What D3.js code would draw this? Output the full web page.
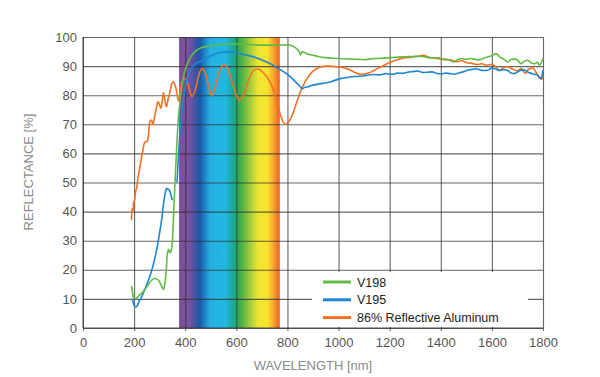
<!DOCTYPE html>
<html lang="en">
<head>
<meta charset="UTF-8" />
<title>Reflectance</title>
<script src="https://cdn.jsdelivr.net/npm/d3@7"></script>
<style>
  body { margin: 0; background: #fff; }
  text { font-family: "Liberation Sans", Arial, sans-serif; }
</style>
</head>
<body>
<svg id="vis" width="600" height="377"></svg>
<script>
// values: [wavelength nm, reflectance %]
const xTicks = [0, 200, 400, 600, 800, 1000, 1200, 1400, 1600, 1800];
const yTicks = [0, 10, 20, 30, 40, 50, 60, 70, 80, 90, 100];
const seriesNames = ["V198", "V195", "86% Reflective Aluminum"];
const visibleRange = [376, 770];

const v198 = [[190,14.5],[193,12.5],[198,10.5],[204,10.1],[212,10.4],[220,11.2],[230,12],[240,13],[250,14.2],[260,15.5],[270,16.5],[280,17],[290,16.8],[300,15.8],[308,14.3],[315,13.2],[320,15],[326,20],[330,25.5],[335,27],[340,25.8],[345,26.5],[350,30],[355,40],[360,50],[366,61],[374,73],[380,78],[387,83],[395,87],[407,90.5],[420,93],[439,95],[460,96.2],[491,96.9],[530,97.4],[583,97.6],[650,97.4],[700,97.2],[770,97.2],[805,97.3],[822,96.8],[838,95.8],[846,95],[851,93.8],[855,94.6],[860,94.9],[877,94.2],[897,93.8],[920,93.3],[949,92.9],[980,92.7],[1000,92.6],[1028,92.5],[1050,92.4],[1080,92.3],[1100,92.2],[1120,92.4],[1140,92.6],[1170,92.7],[1200,92.9],[1230,93.1],[1260,93.2],[1290,93.3],[1320,93.4],[1345,93],[1374,92.8],[1390,92.9],[1410,92.4],[1430,92.2],[1452,91.4],[1465,92.2],[1479,92.6],[1500,92.3],[1515,92.6],[1531,92.4],[1550,92.1],[1570,92.8],[1590,93.3],[1603,93.7],[1616,94.3],[1630,93.2],[1642,92.6],[1652,92],[1662,91.4],[1675,92.3],[1694,92.4],[1705,91.6],[1714,90.8],[1727,91.7],[1740,92],[1752,91.2],[1766,90.8],[1778,91.3],[1786,90.3],[1795,91.5],[1800,92.6]];

const v195 = [[193,10.1],[197,8.5],[202,7.5],[207,7.2],[213,7.8],[220,9.3],[230,10.8],[243,13.5],[256,16.4],[266,19],[276,22.1],[285,25.5],[295,30.1],[302,34],[309,38.1],[314,42],[319,45],[324,47.3],[328,47.9],[334,47.7],[341,46.7],[346,45],[350,43.9],[358,null],[368,50],[374,60],[380,68],[386,74],[393,78.5],[400,82.5],[410,86.5],[420,88.8],[440,90.8],[465,91.8],[500,93.5],[530,94.5],[560,94.9],[590,94.8],[620,94.2],[650,93.6],[680,92.8],[714,91.6],[740,90.5],[766,89.1],[786,88],[805,86.8],[819,85.7],[838,84],[850,82.9],[858,82.2],[866,82.6],[880,82.9],[897,83.4],[920,83.8],[949,84.2],[975,84.8],[1008,85.7],[1030,86],[1060,86.4],[1086,86.5],[1110,86.8],[1135,87.1],[1160,87],[1185,87.4],[1210,87.2],[1230,87.6],[1250,87.5],[1270,87.9],[1290,88.1],[1310,88.3],[1330,87.8],[1348,87.9],[1365,88],[1385,87.5],[1400,87.3],[1420,87.6],[1440,87.4],[1452,87.2],[1470,87.6],[1490,88.1],[1505,88.6],[1518,88.8],[1535,89.1],[1550,88.8],[1565,88.5],[1583,88.6],[1600,89.3],[1615,89],[1630,88.5],[1648,88.8],[1665,88.3],[1675,87.6],[1688,87.4],[1700,88],[1715,88.6],[1727,88.6],[1740,88],[1755,87.5],[1766,87.2],[1780,86.8],[1792,85.7],[1798,87.5],[1800,88.6]];

const aluminum = [[190,37],[191,41],[195,40],[198,43],[202,44],[206,47],[210,48],[214,51],[220,54],[226,57],[232,60],[240,63.5],[246,64],[252,64.3],[256,66],[260,70],[265,71.5],[270,71],[274,70],[280,72.5],[288,76],[294,77.8],[300,76.5],[305,75.5],[310,78],[315,80.8],[320,78.5],[326,76],[333,78.5],[340,81],[348,84],[354,84.6],[360,83.5],[366,81.5],[374,78],[385,84],[395,86],[405,85],[415,82.5],[426,79.5],[440,82],[452,86.5],[465,89.2],[475,88.5],[485,85.5],[495,81.5],[505,80],[515,82],[530,87],[550,90.4],[565,89.5],[585,84],[600,80],[612,78.2],[625,79.5],[645,84.5],[665,88.3],[686,89],[705,87.8],[725,85.5],[740,83],[760,77.5],[775,72.5],[792,70],[805,70.8],[820,73.5],[838,78],[857,82.5],[877,85.8],[900,88.3],[929,89.7],[950,90],[968,90],[990,89.8],[1010,89.6],[1036,89],[1060,88],[1086,87.2],[1100,87.3],[1117,87.6],[1140,88.6],[1165,89.7],[1195,91],[1230,92.2],[1260,92.9],[1290,93.1],[1310,93.4],[1333,93.7],[1350,93.1],[1380,92.7],[1410,92.3],[1440,92.1],[1460,91.5],[1480,91.9],[1500,91.2],[1520,91],[1540,90.5],[1560,90.8],[1580,90.3],[1600,90.6],[1615,89.8],[1630,88.5],[1645,89.5],[1660,89.8],[1680,89],[1700,88.4],[1715,89.2],[1730,87.5],[1745,89],[1760,89.3],[1775,87.5],[1785,86],[1795,85.5],[1800,87]];

const colors = ["#62bb46", "#1b87d4", "#f47121"];
const spectrumStops = [
	[376, "#7f4e9e"], [415, "#7a52a2"], [440, "#3e55a3"], [458, "#1a58a6"], [478, "#1f86c8"],
	[498, "#24b0e0"], [557, "#22b8e2"], [575, "#1eaeb4"], [590, "#1aa98c"], [612, "#36ad4b"],
	[630, "#64ba45"], [655, "#a6cc3c"], [685, "#eee431"], [720, "#f8e52f"], [745, "#f7a82d"], [770, "#f15a25"]
];

let svg = d3.select("#vis");

let x = d3.scaleLinear().domain([0, 1800]).range([83, 543]);
let y = d3.scaleLinear().domain([0, 100]).range([328, 37]);

// visible light band
let grad = svg.append("defs").append("linearGradient")
	.attr("id", "spectrum")
	.attr("gradientUnits", "userSpaceOnUse")
	.attr("x1", x(visibleRange[0])).attr("x2", x(visibleRange[1]))
	.attr("y1", 0).attr("y2", 0);
for (let s of spectrumStops) {
	grad.append("stop")
		.attr("offset", (s[0] - visibleRange[0]) / (visibleRange[1] - visibleRange[0]))
		.attr("stop-color", s[1]);
}
svg.append("rect")
	.attr("x", x(visibleRange[0]))
	.attr("width", x(visibleRange[1]) - x(visibleRange[0]))
	.attr("y", y(100))
	.attr("height", y(0) - y(100))
	.attr("fill", "url(#spectrum)");

// grid (also gives the frame)
let gridColor = "#333";
let gy = svg.append("g").attr("transform", `translate(${x(0)},0)`)
	.call(d3.axisLeft(y).tickValues(yTicks).tickSize(-(x(1800) - x(0))).tickFormat(""));
let gx = svg.append("g").attr("transform", `translate(0,${y(0)})`)
	.call(d3.axisBottom(x).tickValues(xTicks).tickSize(-(y(0) - y(100))).tickFormat(""));
for (let g of [gy, gx]) {
	g.select(".domain").remove();
	g.selectAll("line").attr("stroke", gridColor).attr("stroke-opacity", 0.75).attr("stroke-width", 1.1);
}

// legend background hides the grid
svg.append("rect")
	.attr("x", 312).attr("y", 272).attr("width", 216).attr("height", 55)
	.attr("fill", "#fff");

// axes labels
let xAxis = svg.append("g").attr("transform", `translate(0,${y(0)})`)
	.call(d3.axisBottom(x).tickValues(xTicks).tickFormat(d3.format("d")).tickSize(3).tickPadding(7));
let yAxis = svg.append("g").attr("transform", `translate(${x(0)},0)`)
	.call(d3.axisLeft(y).tickValues(yTicks).tickFormat(d3.format("d")).tickSize(0).tickPadding(6));
for (let g of [xAxis, yAxis]) {
	g.select(".domain").remove();
	g.selectAll("line").attr("stroke", gridColor).attr("stroke-opacity", 0.75);
	g.selectAll("text").attr("fill", "#555").attr("font-size", 13)
		.attr("font-family", "'Liberation Sans', Arial, sans-serif");
}
svg.append("line").attr("x1", x(0)).attr("x2", x(1800)).attr("y1", y(0)).attr("y2", y(0))
	.attr("stroke", gridColor).attr("stroke-opacity", 0.85);
svg.append("line").attr("x1", x(0)).attr("x2", x(0)).attr("y1", y(0)).attr("y2", y(100))
	.attr("stroke", gridColor).attr("stroke-opacity", 0.85);

svg.append("text")
	.attr("x", (x(0) + x(1800)) / 2).attr("y", 370)
	.attr("text-anchor", "middle").attr("fill", "#8a8a8a").attr("font-size", 13)
	.text("WAVELENGTH [nm]");
svg.append("text")
	.attr("transform", "translate(33,172) rotate(-90)")
	.attr("text-anchor", "middle").attr("fill", "#8a8a8a").attr("font-size", 13)
	.text("REFLECTANCE [%]");

// curves, aluminium underneath
let line = d3.line()
	.defined(d => d[1] != null)
	.x(d => x(d[0]))
	.y(d => y(d[1]))
	.curve(d3.curveMonotoneX);

let series = [v198, v195, aluminum];
for (let i = 2; i >= 0; i--) {
	svg.append("path")
		.attr("d", line(series[i]))
		.attr("fill", "none")
		.attr("stroke", colors[i])
		.attr("stroke-width", 1.6)
		.attr("stroke-linejoin", "round");
}

// legend
for (let i = 0; i < seriesNames.length; i++) {
	let ly = 282 + i * 17.8;
	svg.append("line")
		.attr("x1", 323).attr("x2", 351).attr("y1", ly).attr("y2", ly)
		.attr("stroke", colors[i]).attr("stroke-width", 3);
	svg.append("text")
		.attr("x", 357).attr("y", ly + 4.5)
		.attr("fill", "#222").attr("font-size", 12.5)
		.text(seriesNames[i]);
}
</script>
</body>
</html>
